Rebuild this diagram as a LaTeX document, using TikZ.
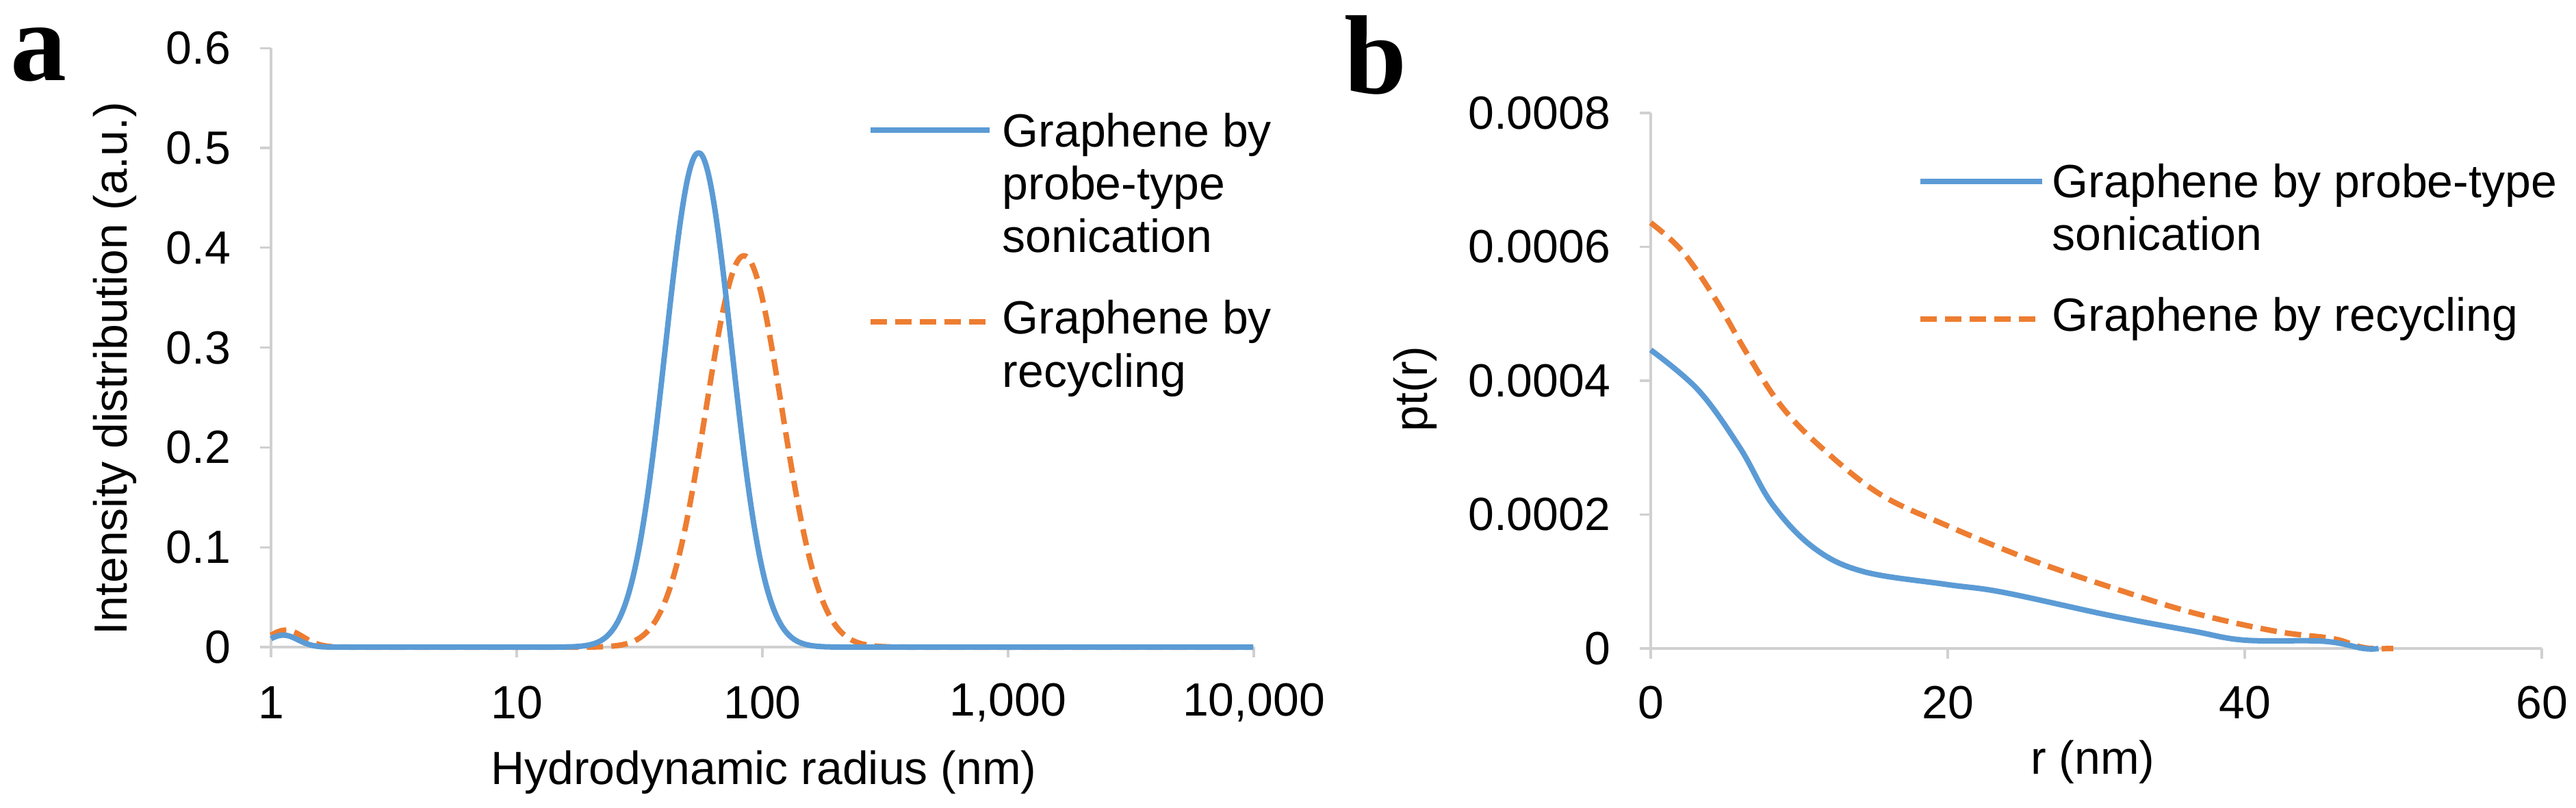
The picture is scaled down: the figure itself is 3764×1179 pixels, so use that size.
\documentclass[tikz,border=0pt]{standalone}
\usepackage{fontspec}
\setmainfont{Liberation Sans}
\newfontfamily\serifb{Liberation Serif}
\definecolor{cblue}{HTML}{5B9BD5}
\definecolor{corange}{HTML}{ED7D31}
\definecolor{cgrid}{HTML}{D0D0D0}
\begin{document}
\begin{tikzpicture}[x=0.25pt,y=-0.25pt,
  lbl/.style={font=\fontsize{17}{19.3}\selectfont, inner sep=0pt},
  panel/.style={font=\serifb\bfseries\fontsize{41}{41}\selectfont, inner sep=0pt},
  ax/.style={cgrid, line width=0.8pt},
  sblue/.style={cblue, line width=2pt, line join=round},
  sorange/.style={corange, line width=2pt, dash pattern=on 6pt off 3pt, line join=round}]
\useasboundingbox (0,0) rectangle (3764,1179);
% panel letters
\node[panel] (pa) at (56,80) {a};
\node[panel] (pb) at (2010,80) {b};
% ---------------- panel a ----------------
\coordinate (a0) at (396,945);
\coordinate (a1) at (1832,945);
\coordinate (a2) at (396,70);
\draw[ax] (a0) -- (a1);
\draw[ax] (a0) -- (a2);
\foreach \i/\t in {0/1,1/10,2/100,3/{1,000},4/{10,000}}{
  \draw[ax] (396+359*\i,945) -- (396+359*\i,960);
  \node[lbl] (ax\i) at (396+359*\i,1026) {\t};
}
\foreach \j/\t in {0/0,1/0.1,2/0.2,3/0.3,4/0.4,5/0.5,6/0.6}{
  \draw[ax] (380,945-145.8*\j) -- (396,945-145.8*\j);
  \node[lbl, anchor=east] (ay\j) at (338,945-145.8*\j) {\t};
}
\node[lbl, rotate=90] (aylab) at (168,538) {Intensity distribution (a.u.)};
\node[lbl] (axlab) at (1116,1128) {Hydrodynamic radius (nm)};
\begin{scope}[shift={(396,945)}, x=89.75pt, y=364.5pt]
\draw[sorange] plot[domain=0:4, samples=500, smooth]
  (\x, {0.392*exp(max(-40,-((\x-1.925)^2)/(2*0.155^2))) + 0.017*exp(max(-40,-((\x-0.06)^2)/(2*0.07^2)))});
\draw[sblue] plot[domain=0:4, samples=500, smooth]
  (\x, {0.495*exp(max(-40,-((\x-1.74)^2)/(2*0.135^2))) + 0.012*exp(max(-40,-((\x-0.05)^2)/(2*0.06^2)))});
\end{scope}
% legend a
\coordinate (la1) at (1272,190);
\coordinate (la2) at (1446,190);
\draw[sblue] (la1) -- (la2);
\node[lbl, anchor=west, align=left] (lta1) at (1464,267) {Graphene by\\probe-type\\sonication};
\coordinate (la3) at (1272,470);
\coordinate (la4) at (1446,470);
\draw[sorange] (la3) -- (la4);
\node[lbl, anchor=west, align=left] (lta2) at (1464,509) {Graphene by\\recycling};
% ---------------- panel b ----------------
\coordinate (b0) at (2412,947);
\coordinate (b1) at (3714,947);
\coordinate (b2) at (2412,165);
\draw[ax] (b0) -- (b1);
\draw[ax] (b0) -- (b2);
\foreach \i/\t in {0/0,1/20,2/40,3/60}{
  \draw[ax] (2412+434*\i,947) -- (2412+434*\i,962);
  \node[lbl] (bx\i) at (2412+434*\i,1026) {\t};
}
\foreach \j/\t in {0/0,1/0.0002,2/0.0004,3/0.0006,4/0.0008}{
  \draw[ax] (2396,947-195.5*\j) -- (2412,947-195.5*\j);
  \node[lbl, anchor=east] (by\j) at (2354,947-195.5*\j) {\t};
}
\node[lbl, rotate=90] (bylab) at (2068,568) {pt(r)};
\node[lbl] (bxlab) at (3058,1113) {r (nm)};
\begin{scope}[shift={(2412,947)}, x=5.425pt, y=48.875pt]
\draw[sorange] plot[smooth, tension=0.6] coordinates {
 (0,3.18) (2.1,2.97) (4.3,2.62) (6.5,2.20) (8.8,1.81) (11.5,1.50) (15.4,1.155)
 (19.8,0.925) (25.4,0.67) (30.9,0.46) (36.5,0.267) (42,0.13) (45.9,0.074) (47.5,0.02) (48.5,0) (50,0)};
\draw[sblue] plot[smooth, tension=0.6] coordinates {
 (0,2.23) (3.2,1.93) (6,1.50) (8.2,1.075) (11,0.75) (14.3,0.575) (19.8,0.48)
 (23.7,0.42) (30.9,0.247) (36.5,0.13) (40,0.062) (45.3,0.054) (48,0) (49,0)};
\end{scope}
% legend b
\coordinate (lb1) at (2806,265);
\coordinate (lb2) at (2984,265);
\draw[sblue] (lb1) -- (lb2);
\node[lbl, anchor=west, align=left] (ltb1) at (2998,303) {Graphene by probe-type\\sonication};
\coordinate (lb3) at (2806,466);
\coordinate (lb4) at (2984,466);
\draw[sorange] (lb3) -- (lb4);
\node[lbl, anchor=west] (ltb2) at (2998,466) {Graphene by recycling};
\end{tikzpicture}
\end{document}
